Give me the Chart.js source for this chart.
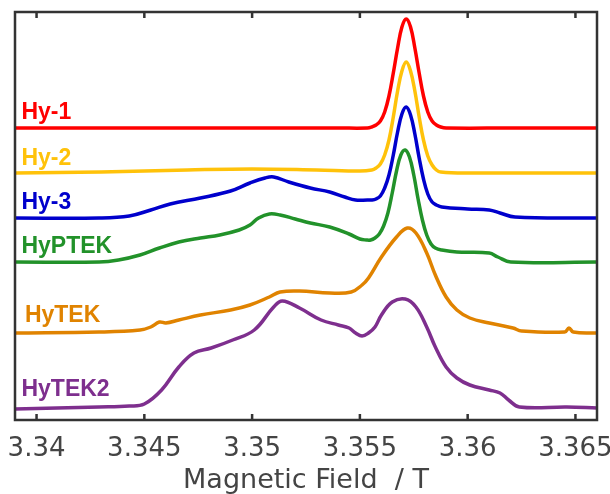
<!DOCTYPE html>
<html>
<head>
<meta charset="utf-8">
<script src="https://cdn.jsdelivr.net/npm/chart.js@4/dist/chart.umd.min.js"></script>
<style>
  html, body { margin: 0; padding: 0; background: #fff; }
  #wrap { width: 610px; height: 494px; }
</style>
</head>
<body>
<div id="wrap"><canvas id="c" width="610" height="494"></canvas></div>
<script>
// field (T), offset signal (a.u.)
const hy1 = [[3.3390,293],[3.3450,293],[3.3500,293],[3.3540,293],[3.35535,293],[3.35555,294],[3.35575,296],[3.35595,300],
  [3.35615,309],[3.35635,325],[3.35655,348],[3.35675,373],[3.35695,394],[3.35715,402],[3.35735,394],[3.35755,373],
  [3.35775,348],[3.35795,325],[3.35815,309],[3.35835,300],[3.35855,296],[3.35875,294],[3.3590,293],[3.3620,293],[3.3660,293]];
const hy2 = [[3.3390,248],[3.3430,249],[3.3470,251],[3.3500,252],[3.3530,251],[3.3550,250],[3.35555,251],[3.35575,253],
  [3.35595,257],[3.35615,266],[3.35635,281],[3.35655,304],[3.35675,330],[3.35695,350],[3.35715,359],[3.35735,350],
  [3.35755,330],[3.35775,304],[3.35795,281],[3.35815,265],[3.35835,256],[3.35855,251],[3.35875,249],[3.3600,248],[3.3660,248]];
const hy3 = [[3.3390,203],[3.3429,203],[3.3443,205],[3.3453,211],[3.3462,217],[3.3476,223],[3.3490,230],[3.3499,238],
  [3.3506,243],[3.3510,244],[3.3517,239],[3.3527,233],[3.3536,229],[3.3543,224],[3.3548,221],[3.35535,221],
  [3.35555,221],[3.35575,222],[3.35595,225],[3.35615,233],[3.35635,246],[3.35655,266],[3.35675,289],[3.35695,307],
  [3.35715,314],[3.35735,306],[3.35755,287],[3.35775,263],[3.35795,242],[3.35815,227],[3.35835,219],[3.35855,216],
  [3.3588,214],[3.3600,212],[3.3610,211],[3.3615,208],[3.3622,204],[3.3660,203]];
const hyptek = [[3.3390,159],[3.3429,159],[3.3438,161],[3.3448,166],[3.3457,173],[3.3466,179],[3.3476,183],[3.3485,186],
  [3.3494,191],[3.3499,196],[3.3503,203],[3.3508,207],[3.3513,206],[3.3520,202],[3.3527,198],[3.3536,194],
  [3.3545,187],[3.3550,182],[3.3553,181],[3.3555,181],[3.3557,183],[3.3559,187],[3.3561,195],[3.3563,208],
  [3.3565,228],[3.3567,250],[3.3569,266],[3.3571,271],[3.3573,264],[3.3575,246],[3.3577,222],[3.3579,201],
  [3.3581,186],[3.3583,177],[3.3585,173],[3.3588,171],[3.3595,169],[3.3610,168],[3.3614,164],[3.3620,159],[3.3660,159]];
const hytek = [[3.3390,88],[3.3429,89],[3.3448,91],[3.3453,94],[3.3457,99],[3.3460,98],[3.3466,101],[3.3476,106],
  [3.3490,111],[3.3499,116],[3.3508,124],[3.3513,129],[3.3522,130],[3.3536,128],[3.3546,129],[3.3551,136],
  [3.3554,143],[3.3560,164],[3.3567,184],[3.3572,193],[3.3576,188],[3.3581,168],[3.3585,146],[3.3590,124],
  [3.3595,111],[3.3601,103],[3.3610,98],[3.3621,93],[3.3625,90],[3.3645,89],[3.3647,93],[3.3649,89],[3.3660,88]];
const hytek2 = [[3.3390,12],[3.3429,14],[3.3443,15],[3.3450,17],[3.3458,31],[3.3466,54],[3.3473,68],[3.3481,73],
  [3.3491,81],[3.3501,91],[3.3510,114],[3.3514,120],[3.3522,113],[3.3532,101],[3.3540,96],[3.3545,93],
  [3.3548,88],[3.3551,85],[3.3554,88],[3.3557,94],[3.3560,106],[3.3565,119],[3.3571,122],[3.3576,114],[3.3581,94],[3.3585,74],
  [3.3590,54],[3.3595,43],[3.3601,36],[3.3610,31],[3.3615,28],[3.3619,21],[3.3624,14],[3.3646,14],[3.3660,13]];

const names = ["Hy-1", "Hy-2", "Hy-3", "HyPTEK", "HyTEK", "HyTEK2"];
const colors = ["#ff0000", "#ffc20a", "#0000cc", "#22922a", "#e08300", "#7e2f8e"];
const tickValues = [3.34, 3.345, 3.35, 3.355, 3.36, 3.365];
const tickLabels = ["3.34", "3.345", "3.35", "3.355", "3.36", "3.365"];

const series = [hy1, hy2, hy3, hyptek, hytek, hytek2];

// where each name sits (field, signal)
const labelAnchors = [[3.3393,302],[3.3393,256],[3.3393,212],[3.3393,168],[3.33946,99],[3.3393,25]];

const framePlugin = {
  id: "frame",
  afterDraw(chart) {
    const { ctx, chartArea: a, scales } = chart;
    ctx.save();
    ctx.strokeStyle = "#333";
    ctx.lineWidth = 2.5;
    ctx.strokeRect(a.left, a.top, a.right - a.left, a.bottom - a.top);
    tickValues.forEach(v => {
      const px = scales.x.getPixelForValue(v);
      ctx.beginPath();
      ctx.moveTo(px, a.bottom); ctx.lineTo(px, a.bottom - 6);
      ctx.moveTo(px, a.top); ctx.lineTo(px, a.top + 6);
      ctx.stroke();
    });
    ctx.restore();
  }
};

const namesPlugin = {
  id: "names",
  afterDatasetsDraw(chart) {
    const { ctx, scales } = chart;
    ctx.save();
    ctx.font = "bold 23px 'Liberation Sans', Arial, sans-serif";
    ctx.textBaseline = "alphabetic";
    ctx.textAlign = "left";
    names.forEach((n, i) => {
      ctx.fillStyle = colors[i];
      ctx.fillText(n, scales.x.getPixelForValue(labelAnchors[i][0]), scales.y.getPixelForValue(labelAnchors[i][1]));
    });
    ctx.restore();
  }
};

new Chart(document.getElementById("c"), {
  type: "line",
  data: {
    datasets: series.map((s, i) => ({
      label: names[i],
      data: s.map(p => ({ x: p[0], y: p[1] })),
      borderColor: colors[i],
      borderWidth: 3.5,
      pointRadius: 0,
      tension: 0.4,
      fill: false
    }))
  },
  options: {
    responsive: false,
    animation: false,
    layout: { padding: { left: 15, right: 13, top: 12, bottom: 0 } },
    plugins: { legend: { display: false }, tooltip: { enabled: false } },
    scales: {
      x: {
        type: "linear",
        min: 3.339,
        max: 3.366,
        afterBuildTicks: (scale) => { scale.ticks = tickValues.map(v => ({ value: v })); },
        afterFit: (scale) => { scale.height = 74; scale.paddingLeft = 0; scale.paddingRight = 0; },
        grid: { display: false, drawTicks: false },
        border: { display: false },
        ticks: {
          padding: 14,
          color: "#444",
          font: { family: "'DejaVu Sans', sans-serif", size: 26 },
          maxRotation: 0,
          autoSkip: false,
          callback: (v, i) => tickLabels[i]
        },
        title: {
          display: true,
          text: "Magnetic Field  / T",
          color: "#444",
          font: { family: "'DejaVu Sans', sans-serif", size: 27, lineHeight: 1 },
          padding: { top: 0, bottom: 0 }
        }
      },
      y: {
        display: false,
        min: 1,
        max: 409
      }
    }
  },
  plugins: [framePlugin, namesPlugin]
});
</script>
</body>
</html>
